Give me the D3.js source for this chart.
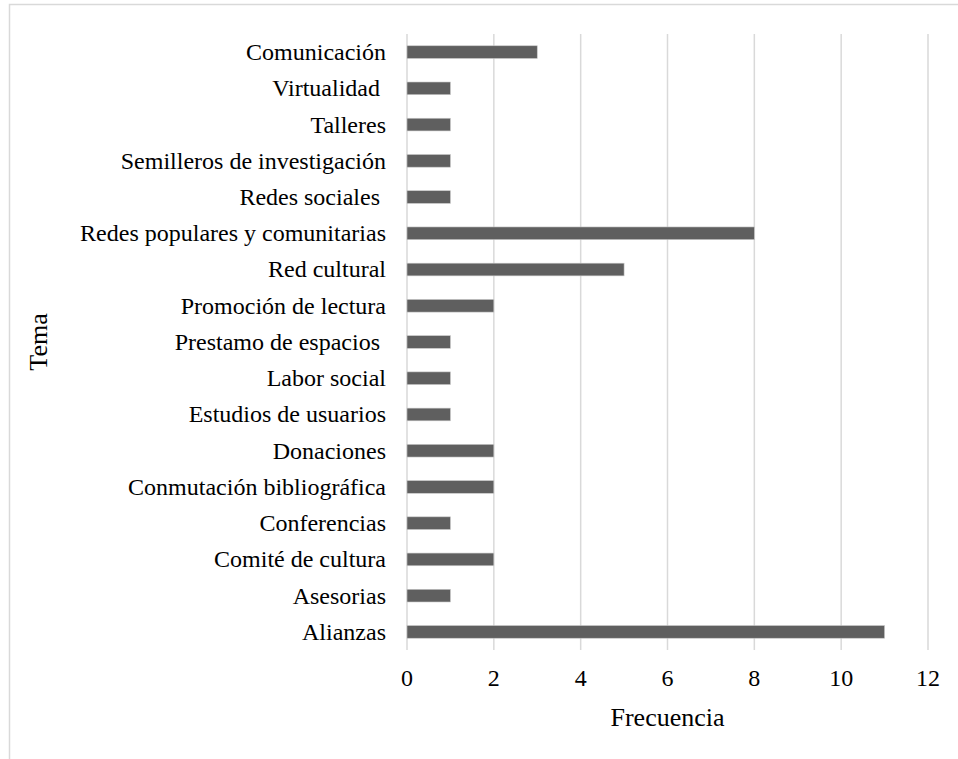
<!DOCTYPE html>
<html>
<head>
<meta charset="utf-8">
<script src="https://cdn.jsdelivr.net/npm/d3@7"></script>
<style>
  html, body { margin: 0; padding: 0; background: #fff; }
  svg text { font-family: "Liberation Serif", "Times New Roman", serif; fill: #000; white-space: pre; }
</style>
</head>
<body>
<svg id="chart" width="958" height="759"></svg>
<script>
// Temas, listed from the top of the chart to the bottom
const categories = [
  "Comunicación",
  "Virtualidad ",
  "Talleres",
  "Semilleros de investigación",
  "Redes sociales ",
  "Redes populares y comunitarias",
  "Red cultural",
  "Promoción de lectura",
  "Prestamo de espacios ",
  "Labor social",
  "Estudios de usuarios",
  "Donaciones",
  "Conmutación bibliográfica",
  "Conferencias",
  "Comité de cultura",
  "Asesorias",
  "Alianzas"
];
const frecuencia = [3, 1, 1, 1, 1, 8, 5, 2, 1, 1, 1, 2, 2, 1, 2, 1, 11];
const xTicks = [0, 2, 4, 6, 8, 10, 12];
const xTitle = "Frecuencia";
const yTitle = "Tema";

const svg = d3.select("#chart");

// Outer chart frame
svg.append("rect")
  .attr("x", 9.5).attr("y", 4.5)
  .attr("width", 1100).attr("height", 900)
  .attr("fill", "none").attr("stroke", "#d9d9d9").attr("stroke-width", 1.5);

const plot = { left: 407, right: 928, top: 34, bottom: 650 };

const x = d3.scaleLinear().domain([0, 12]).range([plot.left, plot.right]);
const y = d3.scaleBand().domain(categories).range([plot.top, plot.bottom]).padding(0);
const barH = y.bandwidth() * 0.35;

// Vertical gridlines
svg.append("g")
  .selectAll("line")
  .data(xTicks)
  .join("line")
  .attr("x1", d => x(d)).attr("x2", d => x(d))
  .attr("y1", plot.top).attr("y2", plot.bottom)
  .attr("stroke", "#d9d9d9").attr("stroke-width", 1.5);

// Bars
svg.append("g")
  .selectAll("rect")
  .data(categories)
  .join("rect")
  .attr("x", x(0))
  .attr("y", d => y(d) + (y.bandwidth() - barH) / 2)
  .attr("width", (d, i) => x(frecuencia[i]) - x(0))
  .attr("height", barH)
  .attr("fill", "#5f5f5f")
  .attr("stroke", "#c8c8c8")
  .attr("stroke-width", 0.6);

// Category axis labels
svg.append("g")
  .selectAll("text")
  .data(categories)
  .join("text")
  .attr("x", plot.left - 21)
  .attr("y", d => y(d) + y.bandwidth() / 2)
  .attr("dy", "0.33em")
  .attr("text-anchor", "end")
  .attr("font-size", 24)
  .text(d => d);

// Value axis tick labels
svg.append("g")
  .selectAll("text")
  .data(xTicks)
  .join("text")
  .attr("x", d => x(d))
  .attr("y", 686)
  .attr("text-anchor", "middle")
  .attr("font-size", 24)
  .text(d => d);

// Axis titles
svg.append("text")
  .attr("x", (plot.left + plot.right) / 2)
  .attr("y", 726)
  .attr("text-anchor", "middle")
  .attr("font-size", 26)
  .text(xTitle);

svg.append("text")
  .attr("transform", "translate(47,342) rotate(-90)")
  .attr("text-anchor", "middle")
  .attr("font-size", 26)
  .text(yTitle);
</script>
</body>
</html>
